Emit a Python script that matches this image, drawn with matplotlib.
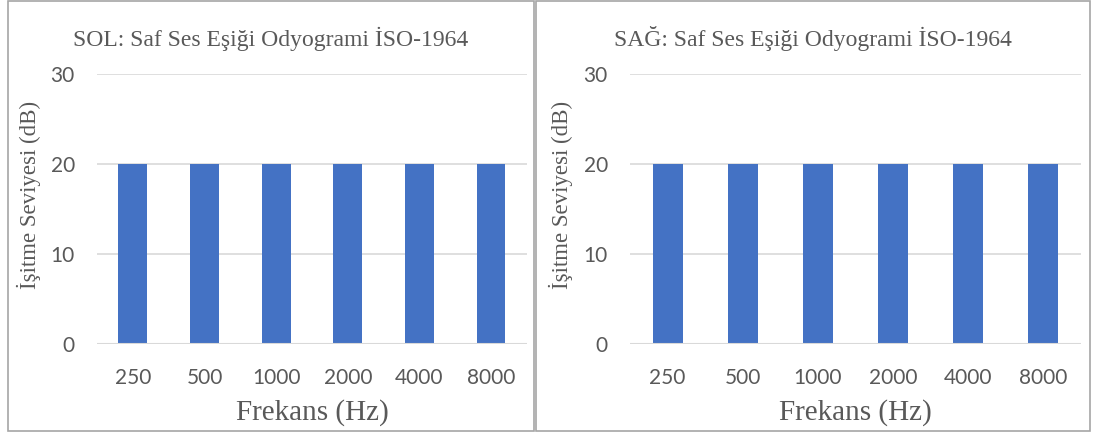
import matplotlib
matplotlib.use("Agg")
import matplotlib.pyplot as plt
from matplotlib.patches import Rectangle

categories = ["250", "500", "1000", "2000", "4000", "8000"]
left_values = [20, 20, 20, 20, 20, 20]
right_values = [20, 20, 20, 20, 20, 20]
titles = ["SOL: Saf Ses Eşiği Odyogrami İSO-1964", "SAĞ: Saf Ses Eşiği Odyogrami İSO-1964"]
yticks = [0, 10, 20, 30]
xlabel = "Frekans (Hz)"
ylabel = "İşitme Seviyesi (dB)"

W, H = 1093, 433
fig = plt.figure(figsize=(W / 100, H / 100), dpi=100)
fig.patch.set_facecolor("white")

def px(x0, y0, x1, y1):
    return [x0 / W, 1 - y1 / H, (x1 - x0) / W, (y1 - y0) / H]

panels = [
    dict(box=(8, 1, 534, 431), ax=(97, 74, 527, 344), values=left_values, title=titles[0], ylab_x=29),
    dict(box=(536, 1, 1090, 431), ax=(630, 74, 1081, 344), values=right_values, title=titles[1], ylab_x=561),
]

serif = "Liberation Serif"
sans = ["Lato", "DejaVu Sans"]
txtc = "#595959"

for p in panels:
    bx0, by0, bx1, by1 = p["box"]
    fig.patches.append(Rectangle((bx0 / W, 1 - by1 / H), (bx1 - bx0) / W, (by1 - by0) / H,
                                 transform=fig.transFigure, fill=False, edgecolor="#a6a6a6",
                                 linewidth=1.2))
    ax0, ay0, ax1, ay1 = p["ax"]
    ax = fig.add_axes(px(*p["ax"]))
    x = list(range(len(categories)))
    ax.bar(x, p["values"], width=0.4, color="#4472C4", zorder=3)
    ax.set_xlim(-0.5, len(categories) - 0.5)
    ax.set_ylim(0, 30)
    ax.set_yticks(yticks)
    ax.set_xticks(x)
    ax.set_xticklabels(categories)
    for s in ax.spines.values():
        s.set_visible(False)
    ax.grid(axis="y", color="#d9d9d9", linewidth=1.2, zorder=0)
    ax.tick_params(length=0, labelsize=15, labelcolor=txtc)
    ax.tick_params(axis="x", pad=17)
    ax.tick_params(axis="y", pad=16)
    for lab in ax.get_xticklabels() + ax.get_yticklabels():
        lab.set_family(sans)
    ax.axhline(0, color="#d9d9d9", linewidth=1.5, zorder=4)
    # axis titles and chart title placed in pixel coordinates
    fig.text(((ax0 + ax1) / 2) / W, 1 - 420 / H, xlabel, family=serif, fontsize=21,
             color=txtc, ha="center", va="baseline")
    fig.text(p["ylab_x"] / W, 1 - 195 / H, ylabel, family=serif, fontsize=16.5,
             color=txtc, ha="center", va="center", rotation=90)
    fig.text(((bx0 + bx1) / 2) / W, 1 - 46 / H, p["title"], family=serif, fontsize=17,
             color=txtc, ha="center", va="baseline")

fig.savefig("out.png", dpi=100, facecolor="white")
